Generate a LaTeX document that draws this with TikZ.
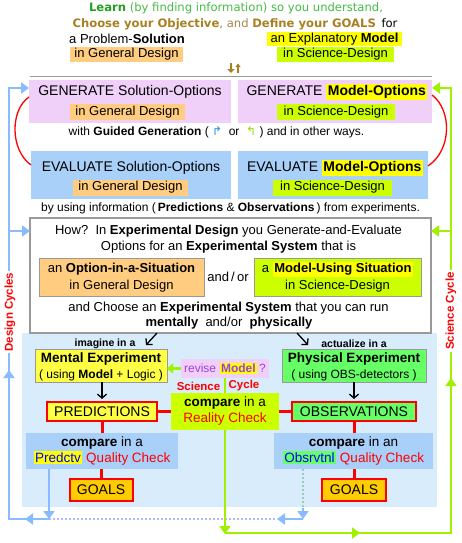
\documentclass[tikz,border=0pt]{standalone}
\usepackage{fontspec}
\setmainfont{Liberation Sans}
\newfontfamily\dvs{DejaVu Sans}
\usetikzlibrary{arrows.meta,decorations.markings}
\definecolor{cpink}{HTML}{F0D0F8}
\definecolor{cbox}{HTML}{A8D0F8}
\definecolor{cbg}{HTML}{D8ECFC}
\definecolor{corange}{HTML}{FFCC80}
\definecolor{clime}{HTML}{CCFF00}
\definecolor{cyel}{HTML}{FFFF00}
\definecolor{cyel2}{HTML}{FFFF44}
\definecolor{cgb}{HTML}{66FF66}
\definecolor{cgoals}{HTML}{FFCC00}
\definecolor{cbl}{HTML}{88BBFF}
\definecolor{cgl}{HTML}{A0F000}
\definecolor{cdot}{HTML}{B0B8FF}
\definecolor{cdot2}{HTML}{99CCBB}
\definecolor{cgray}{HTML}{999999}
\definecolor{ctg}{HTML}{22A022}
\definecolor{ctg2}{HTML}{44BB44}
\definecolor{cgold}{HTML}{A88020}
\definecolor{cgold2}{HTML}{A08848}
\definecolor{cpurple}{HTML}{A040E0}
\definecolor{cglyphb}{HTML}{2A90E0}
\definecolor{cglyphg}{HTML}{99DD00}
\newcommand\szH{\fontsize{14}{16}\selectfont}
\newcommand\szHb{\fontsize{13.5}{15}\selectfont}
\newcommand\szM{\fontsize{13}{15}\selectfont}
\newcommand\szS{\fontsize{12}{14}\selectfont}
\newcommand\szL{\bfseries\fontsize{11.5}{13}\selectfont}
\newcommand\szT{\dvs\fontsize{11.6}{13}\selectfont}
\newcommand\hlY[1]{{\setlength{\fboxsep}{1.5pt}\colorbox{cyel}{#1}}}
\newcommand\hlG[1]{{\setlength{\fboxsep}{1.5pt}\colorbox{cgb}{#1}}}
\tikzset{
  hdr/.style={font=\szH},
  hlo/.style={fill=corange, font=\szM, minimum height=16pt},
  hlg/.style={fill=clime, font=\szM, minimum height=16pt},
  redbox/.style={draw=red, line width=2pt, font=\szH},
  barr/.style={line width=2.5pt, draw=cbl, line join=miter},
  garr/.style={line width=2.5pt, draw=cgl, line join=miter},
  bigtip/.style={-{Triangle[length=8pt,width=11pt]}},
  sidelab/.style={rotate=90, fill=white, font=\szL, text=red, inner sep=2pt}
}
\begin{document}
\begin{tikzpicture}[x=1pt,y=-1pt, every node/.style={inner sep=0pt, outer sep=0pt}]
\useasboundingbox (0,0) rectangle (461,543);

% ---- top
\node[font=\szT, text=ctg2] (t1) at (236,8) {\textcolor{ctg}{\textbf{Learn}} (by finding information) so you understand,};
\node[font=\szT] (t2) at (235,24) {\textcolor{cgold}{\textbf{Choose your Objective}}\textcolor{cgold2}{, and} \textcolor{cgold}{\textbf{Define your GOALS}}\, for};
\node[font=\szM] (t3) at (127,39) {a Problem-\textbf{Solution}};
\node[fill=cyel, font=\szM, minimum width=135pt, minimum height=14pt] (t4) at (334.5,39) {an Explanatory \textbf{Model}};
\node[hlo, minimum width=113pt, minimum height=15pt] (t5) at (126.5,54.5) {in General Design};
\node[hlg, minimum width=117pt, minimum height=15pt] (t6) at (335.5,54.5) {in Science-Design};
\coordinate (ua1) at (231,63.5); \coordinate (ua2) at (231,73);
\coordinate (ub1) at (238,73); \coordinate (ub2) at (238,63.5);
\draw[cgold, line width=2.5pt, -{Triangle[length=4pt,width=7pt]}] (ua1) -- (ua2);
\draw[cgold, line width=1.1pt, -{Triangle[length=3.5pt,width=5pt]}] (ub1) -- (ub2);
\coordinate (gl1) at (30,76); \coordinate (gl2) at (432,76);
\draw[cgray, line width=1pt] (gl1) -- (gl2);

% ---- generate
\node[fill=cpink, minimum width=202pt, minimum height=43pt] (genS) at (130,101.5) {};
\node[hdr] (genSt) at (130,92) {GENERATE Solution-Options};
\node[hlo, minimum width=115pt] (genSo) at (127.5,112) {in General Design};
\node[fill=cpink, minimum width=194pt, minimum height=43pt] (genM) at (335,101.5) {};
\node[hdr] (genMt) at (337,92) {GENERATE \hlY{\textbf{Model-Options}}};
\node[hlg, minimum width=118pt] (genMo) at (336,112) {in Science-Design};
\node[font=\szS] (guided) at (216.5,132) {with \textbf{Guided Generation} ( {\dvs\textcolor{cglyphb}{↱}} \ or \ {\dvs\textcolor{cglyphg}{↰}} ) and in other ways.};

% ---- evaluate
\node[fill=cbox, minimum width=200pt, minimum height=48pt] (evS) at (131,175) {};
\node[hdr] (evSt) at (131,168) {EVALUATE Solution-Options};
\node[hlo, minimum width=115pt] (evSo) at (130.5,187.5) {in General Design};
\node[fill=cbox, minimum width=190pt, minimum height=48pt] (evM) at (333,175) {};
\node[hdr] (evMt) at (335,168) {EVALUATE \hlY{\textbf{Model-Options}}};
\node[hlg, minimum width=119pt] (evMo) at (332.5,187.5) {in Science-Design};
\node[font=\szS] (byusing) at (230.5,208) {by using information (\,\textbf{Predictions} \& \textbf{Observations}\,) from experiments.};

% red cycle curves
\draw[red, line width=1.3pt] ([yshift=4.5pt]genS.west) .. controls (10,110) and (10,150) .. ([yshift=10pt]evS.west);
\draw[red, line width=1.3pt] ([yshift=6.5pt]genM.east) .. controls (452,110) and (452,150) .. ([yshift=9pt]evM.east);

% ---- light background
\node[fill=cbg, minimum width=415pt, minimum height=174pt] (bg) at (229.5,420) {};

% ---- how box
\node[fill=white, draw=cgray, line width=1.5pt, minimum width=401pt, minimum height=115pt] (how) at (230.5,275.5) {};
\node[font=\szM] (h1) at (228.5,231) {How?\ \ In \textbf{Experimental Design} you Generate-and-Evaluate};
\node[font=\szM] (h2) at (228.5,247) {Options for an \textbf{Experimental System} that is};
\node[fill=corange, draw=cgray, line width=1pt, minimum width=165pt, minimum height=38pt] (opt) at (121.5,277) {};
\node[font=\szM] (opt1) at (121.5,269.5) {an \textbf{Option-in-a-Situation}};
\node[font=\szM] (opt2) at (121.5,286) {in General Design};
\node[font=\szM] (andor) at (228,277) {and\,/\,or};
\node[fill=clime, draw=cgray, line width=1pt, minimum width=167pt, minimum height=38pt] (mus) at (337.5,277) {};
\node[font=\szM] (mus1) at (337.5,269.5) {a \hlY{\textbf{Model-Using Situation}}};
\node[font=\szM] (mus2) at (337.5,286) {in Science-Design};
\node[font=\szM] (h3) at (228.5,308) {and Choose an \textbf{Experimental System} that you can run};
\node[font=\szM] (h4) at (229,323) {\textbf{mentally}\ \ and/or\ \ \textbf{physically}};

% ---- experiments
\coordinate (ka) at (157,333); \coordinate (kb) at (146,345);
\coordinate (kc) at (297,333); \coordinate (kd) at (308,345);
\draw[line width=1.3pt, -{Straight Barb[length=4pt,width=9pt]}] (ka) -- (kb);
\draw[line width=1.3pt, -{Straight Barb[length=4pt,width=9pt]}] (kc) -- (kd);
\node[font=\bfseries\fontsize{10.5}{12}\selectfont] (imag) at (105,344) {imagine in a};
\node[font=\bfseries\fontsize{10.5}{12}\selectfont] (actu) at (354,344) {actualize in a};

\node[fill=cyel2, draw=cgray, line width=1pt, minimum width=132pt, minimum height=33pt] (ment) at (101,365.5) {};
\node[font=\bfseries\szHb] (ment1) at (101,359.5) {Mental Experiment};
\node[font=\szS] (ment2) at (101,375) {( using \textbf{Model} + Logic )};
\node[fill=cgb, draw=cgray, line width=1pt, minimum width=144pt, minimum height=33pt] (phys) at (354,365.5) {};
\node[font=\bfseries\szHb] (phys1) at (354,359.5) {Physical Experiment};
\node[font=\szS] (phys2) at (354,375) {( using OBS-detectors )};

\node[fill=cpink, minimum width=88pt, minimum height=19pt, font=\szS, text=cpurple] (rev) at (225,368.5) {revise \hlY{\textbf{Model}}\,?};
\node[font=\szL, text=red] (sci) at (198.5,386) {Science};
\node[font=\szL, text=red] (cyc) at (244,386) {Cycle};

\node[fill=clime, minimum width=108pt, minimum height=37pt] (rc) at (225,411.5) {};
\node[font=\szHb] (rc1) at (225,403) {\textbf{compare} in a};
\node[font=\szHb, text=red] (rc2) at (225,419.5) {Reality Check};

\node[redbox, fill=cyel2, minimum width=110pt, minimum height=19pt] (pred) at (102,411.5) {PREDICTIONS};
\node[redbox, fill=cgb, minimum width=124pt, minimum height=19pt] (obs) at (354,411.5) {OBSERVATIONS};

\draw[line width=1.3pt, -{Straight Barb[length=4pt,width=9pt]}, shorten >=3pt] (ment.south -| pred.north) -- (pred.north);
\draw[line width=1.3pt, -{Straight Barb[length=4pt,width=9pt]}, shorten >=3pt] (phys.south) -- (obs.north);
\draw[red, line width=3pt] (pred.east) -- (rc.west);
\draw[red, line width=3pt] (rc.east) -- (obs.west);
\draw[cgl, line width=2.5pt] (rc.north) -- (rev.south);
\draw[cgl, line width=2.5pt, -{Triangle[length=6pt,width=10pt]}] (rev.west) -- (rev.west -| ment.east);

% ---- quality checks
\node[fill=cbox, minimum width=152pt, minimum height=36pt] (cmpL) at (102,451) {};
\node[font=\szHb] (cl1) at (102,443) {\textbf{compare} in a};
\node[font=\szHb] (cl2) at (102,458) {\hlY{\textcolor{blue}{Predctv}} \textcolor{red}{Quality Check}};
\node[fill=cbox, minimum width=159pt, minimum height=36pt] (cmpR) at (353.5,451) {};
\node[font=\szHb] (cr1) at (353.5,443) {\textbf{compare} in an};
\node[font=\szHb] (cr2) at (353.5,458) {\hlG{\textcolor{blue}{Obsrvtnl}} \textcolor{red}{Quality Check}};

\node[redbox, fill=cgoals, minimum width=63pt, minimum height=22pt] (goL) at (101,490) {GOALS};
\node[redbox, fill=cgoals, minimum width=64pt, minimum height=22pt] (goR) at (354,490) {GOALS};
\draw[red, line width=3pt] (pred.south) -- (pred.south |- cmpL.north);
\draw[red, line width=3pt] (goL.north |- cmpL.south) -- (goL.north);
\draw[red, line width=3pt] (obs.south) -- (obs.south |- cmpR.north);
\draw[red, line width=3pt] (goR.north |- cmpR.south) -- (goR.north);

% ---- design cycle (blue)
\coordinate (bA) at ([xshift=23pt]cmpL.south west);
\coordinate (bB) at (49,519);
\coordinate (bC) at (9,519);
\coordinate (bD) at (9,88);
\coordinate (bE) at (9,231);
\coordinate (bF) at (277,519);
\coordinate (bG) at ([xshift=29pt]cmpR.south west);
\coordinate (bH) at (303,519);
\coordinate (bI) at (303,508);
\draw[cdot, line width=2.5pt, dash pattern=on 2pt off 2pt] (bB) -- (bF);
\draw[barr, bigtip] (bA) -- (bB);
\draw[barr, bigtip, postaction={decorate}, decoration={markings,
   mark=at position 24pt with {\arrow{Triangle[length=8pt,width=11pt]}},
   mark=at position 189pt with {\arrow{Triangle[length=8pt,width=11pt]}}}]
   (bB) -- (bC) -- (bD) -- (bD -| genS.west);
\draw[barr, bigtip] (bE) -- (bE -| how.west);
\draw[cdot2, line width=2pt, dash pattern=on 2pt off 2pt] (bG) -- (bI);
\draw[barr, bigtip] (bI) -- (bH);
\draw[barr, bigtip] (bH) -- (bF);
\node[sidelab] (dcl) at (10,312) {Design Cycles};

% ---- science cycle (green)
\coordinate (gB) at (225,533);
\coordinate (gC) at (451,533);
\coordinate (gD) at (451,88);
\coordinate (gE) at (451,231);
\draw[garr, bigtip] (rc.south) -- ([yshift=-1pt]gB);
\draw[garr, bigtip, postaction={decorate}, decoration={markings,
   mark=at position 135pt with {\arrow{Triangle[length=8pt,width=11pt]}},
   mark=at position 381pt with {\arrow{Triangle[length=8pt,width=11pt]}}}]
   (gB) -- (gC) -- (gD) -- (gD -| genM.east);
\draw[garr, bigtip] (gE) -- (gE -| how.east);
\node[sidelab] (scl) at (451,311) {Science Cycle};
\end{tikzpicture}
\end{document}
